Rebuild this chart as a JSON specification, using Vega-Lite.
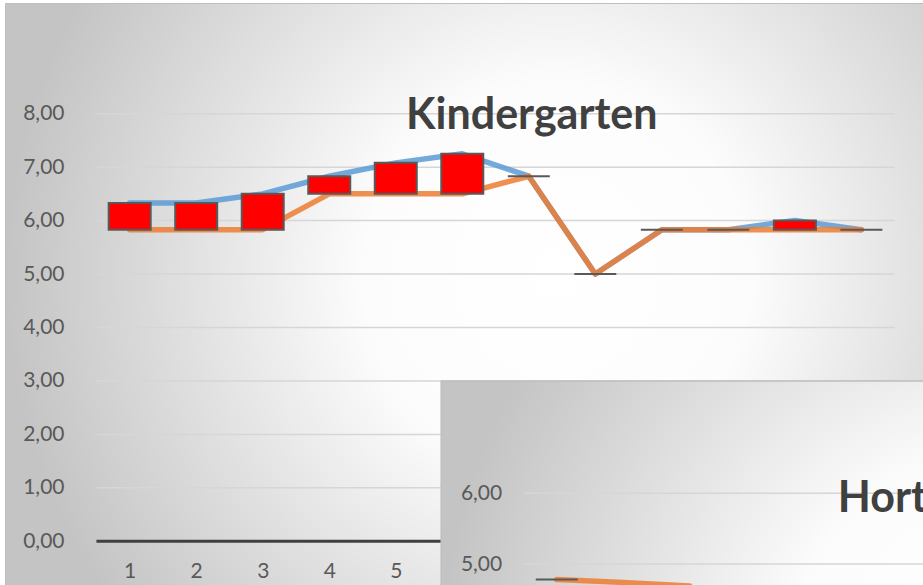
{
  "$schema": "https://vega.github.io/schema/vega-lite/v6.json",
  "width": 918,
  "height": 582,
  "autosize": {"type": "none"},
  "padding": {"left": 5, "top": 3, "right": 0, "bottom": 0},
  "background": "#ffffff",
  "view": {
    "fill": {"gradient": "radial", "x1": 0.6, "y1": 0.48, "r1": 0, "x2": 0.6, "y2": 0.48, "r2": 0.6,
      "stops": [{"offset": 0, "color": "#ffffff"}, {"offset": 0.35, "color": "#fcfcfc"}, {"offset": 1, "color": "#c4c4c4"}]},
    "stroke": "#bfbfbf",
    "strokeWidth": 1
  },
  "datasets": {
    "kindergarten": [
      {"i": 1, "hoch": 6.33, "tief": 5.83},
      {"i": 2, "hoch": 6.33, "tief": 5.83},
      {"i": 3, "hoch": 6.5, "tief": 5.83},
      {"i": 4, "hoch": 6.83, "tief": 6.5},
      {"i": 5, "hoch": 7.08, "tief": 6.5},
      {"i": 6, "hoch": 7.25, "tief": 6.5},
      {"i": 7, "hoch": 6.83, "tief": 6.83},
      {"i": 8, "hoch": 5.0, "tief": 5.0},
      {"i": 9, "hoch": 5.83, "tief": 5.83},
      {"i": 10, "hoch": 5.83, "tief": 5.83},
      {"i": 11, "hoch": 6.0, "tief": 5.83},
      {"i": 12, "hoch": 5.83, "tief": 5.83}
    ],
    "hort": [
      {"i": 1, "hoch": 4.78, "tief": 4.78},
      {"i": 2, "hoch": 4.74, "tief": 4.74},
      {"i": 3, "hoch": 4.69, "tief": 4.69}
    ]
  },
  "resolve": {"scale": {"x": "independent", "y": "independent"}, "axis": {"x": "independent", "y": "independent"}},
  "layer": [
    {
      "layer": [
        {
          "data": {"values": [{"v": 1}, {"v": 2}, {"v": 3}, {"v": 4}, {"v": 5}, {"v": 6}, {"v": 7}, {"v": 8}]},
          "mark": {"type": "rule", "color": "#d6d6d6", "strokeWidth": 1.5},
          "encoding": {
            "x": {"datum": 0.5, "type": "quantitative", "title": null,
              "scale": {"domain": [-0.7993, 12.851], "nice": false, "zero": false},
              "axis": {"orient": "bottom", "offset": -43.7, "values": [1,2,3,4,5], "format": "d",
                "domain": false, "ticks": false, "grid": false, "labelPadding": 30.4, "labelBaseline": "middle",
                "labelFont": "Lato", "labelFontSize": 21, "labelColor": "#595959", "title": null}},
            "x2": {"datum": 12.5},
            "y": {"field": "v", "type": "quantitative", "title": null,
              "scale": {"domain": [-0.818, 10.071], "nice": false, "zero": false},
              "axis": {"orient": "left", "offset": -87.4, "values": [0,1,2,3,4,5,6,7,8],
                "labelExpr": "replace(format(datum.value, '.2f'), '.', ',')",
                "domain": false, "ticks": false, "grid": false, "labelPadding": 28.4,
                "labelFont": "Lato", "labelFontSize": 21, "labelColor": "#595959", "title": null}}
          }
        },
        {
          "data": {"values": [{"v": 0}]},
          "mark": {"type": "rule", "color": "#404040", "strokeWidth": 3},
          "encoding": {
            "x": {"datum": 0.5, "type": "quantitative", "title": null, "scale": {"domain": [-0.7993, 12.851], "nice": false, "zero": false}},
            "x2": {"datum": 12.5},
            "y": {"field": "v", "type": "quantitative", "title": null, "scale": {"domain": [-0.818, 10.071], "nice": false, "zero": false}}
          }
        },
        {
          "data": {"name": "kindergarten"},
          "mark": {"type": "line", "color": "#5B9BD5", "opacity": 0.85, "strokeWidth": 5.5, "strokeJoin": "round", "strokeCap": "round"},
          "encoding": {
            "x": {"field": "i", "type": "quantitative", "title": null, "scale": {"domain": [-0.7993, 12.851], "nice": false, "zero": false}},
            "y": {"field": "hoch", "type": "quantitative", "title": null, "scale": {"domain": [-0.818, 10.071], "nice": false, "zero": false}}
          }
        },
        {
          "data": {"name": "kindergarten"},
          "mark": {"type": "line", "color": "#ED7D31", "opacity": 0.85, "strokeWidth": 5.5, "strokeJoin": "round", "strokeCap": "round"},
          "encoding": {
            "x": {"field": "i", "type": "quantitative", "title": null, "scale": {"domain": [-0.7993, 12.851], "nice": false, "zero": false}},
            "y": {"field": "tief", "type": "quantitative", "title": null, "scale": {"domain": [-0.818, 10.071], "nice": false, "zero": false}}
          }
        },
        {
          "data": {"name": "kindergarten"},
          "mark": {"type": "bar", "width": 42, "color": "#FF0000", "stroke": "#595959", "strokeWidth": 2},
          "encoding": {
            "x": {"field": "i", "type": "quantitative", "title": null, "scale": {"domain": [-0.7993, 12.851], "nice": false, "zero": false}},
            "y": {"field": "tief", "type": "quantitative", "title": null, "scale": {"domain": [-0.818, 10.071], "nice": false, "zero": false}},
            "y2": {"field": "hoch"}
          }
        },
        {
          "data": {"values": [{"titel": "Kindergarten"}]},
          "mark": {"type": "text", "align": "center", "baseline": "alphabetic", "font": "Lato", "fontWeight": "bold", "fontSize": 43, "color": "#404040"},
          "encoding": {
            "x": {"datum": 7.045, "type": "quantitative", "scale": {"domain": [-0.7993, 12.851], "nice": false, "zero": false}},
            "y": {"datum": 7.708, "type": "quantitative", "scale": {"domain": [-0.818, 10.071], "nice": false, "zero": false}},
            "text": {"field": "titel"}
          }
        }
      ]
    },
    {
      "layer": [
        {
          "data": {"values": [{"panel": "Hort"}]},
          "mark": {"type": "rect", "stroke": "#bfbfbf", "strokeWidth": 1.5,
            "fill": {"gradient": "radial", "x1": 0.6, "y1": 0.48, "r1": 0, "x2": 0.6, "y2": 0.48, "r2": 0.6,
              "stops": [{"offset": 0, "color": "#ffffff"}, {"offset": 0.35, "color": "#fcfcfc"}, {"offset": 1, "color": "#c4c4c4"}]}},
          "encoding": {
            "x": {"datum": -0.737, "type": "quantitative", "scale": {"domain": [-7.22, 6.431], "nice": false, "zero": false}, "axis": null},
            "x2": {"datum": 12.91},
            "y": {"datum": 7.588, "type": "quantitative", "scale": {"domain": [4.703, 12.935], "nice": false, "zero": false},
              "axis": {"orient": "left", "offset": -519.2, "values": [5, 6], "zindex": 1,
                "labelExpr": "replace(format(datum.value, '.2f'), '.', ',')",
                "domain": false, "ticks": false, "grid": false, "labelPadding": 22.5,
                "labelFont": "Lato", "labelFontSize": 21, "labelColor": "#595959", "title": null}},
            "y2": {"datum": -0.643}
          }
        },
        {
          "data": {"values": [{"v": 5}, {"v": 6}]},
          "mark": {"type": "rule", "color": "#d6d6d6", "strokeWidth": 1.5},
          "encoding": {
            "x": {"datum": 0.5, "type": "quantitative", "scale": {"domain": [-7.22, 6.431], "nice": false, "zero": false}},
            "x2": {"datum": 13},
            "y": {"field": "v", "type": "quantitative", "title": null, "scale": {"domain": [4.703, 12.935], "nice": false, "zero": false}}
          }
        },
        {
          "data": {"name": "hort"},
          "mark": {"type": "line", "color": "#ED7D31", "opacity": 0.85, "strokeWidth": 5.5, "strokeJoin": "round", "strokeCap": "round"},
          "encoding": {
            "x": {"field": "i", "type": "quantitative", "title": null, "scale": {"domain": [-7.22, 6.431], "nice": false, "zero": false}},
            "y": {"field": "tief", "type": "quantitative", "title": null, "scale": {"domain": [4.703, 12.935], "nice": false, "zero": false}}
          }
        },
        {
          "data": {"name": "hort"},
          "transform": [{"filter": "datum.i == 1"}],
          "mark": {"type": "bar", "width": 42, "color": "#FF0000", "stroke": "#595959", "strokeWidth": 2},
          "encoding": {
            "x": {"field": "i", "type": "quantitative", "title": null, "scale": {"domain": [-7.22, 6.431], "nice": false, "zero": false}},
            "y": {"field": "tief", "type": "quantitative", "title": null, "scale": {"domain": [4.703, 12.935], "nice": false, "zero": false}},
            "y2": {"field": "hoch"}
          }
        },
        {
          "data": {"values": [{"titel": "Hort"}]},
          "mark": {"type": "text", "align": "left", "baseline": "alphabetic", "font": "Lato", "fontWeight": "bold", "fontSize": 43, "color": "#404040"},
          "encoding": {
            "x": {"datum": 5.226, "type": "quantitative", "scale": {"domain": [-7.22, 6.431], "nice": false, "zero": false}},
            "y": {"datum": 5.74, "type": "quantitative", "scale": {"domain": [4.703, 12.935], "nice": false, "zero": false}},
            "text": {"field": "titel"}
          }
        }
      ]
    }
  ]
}
